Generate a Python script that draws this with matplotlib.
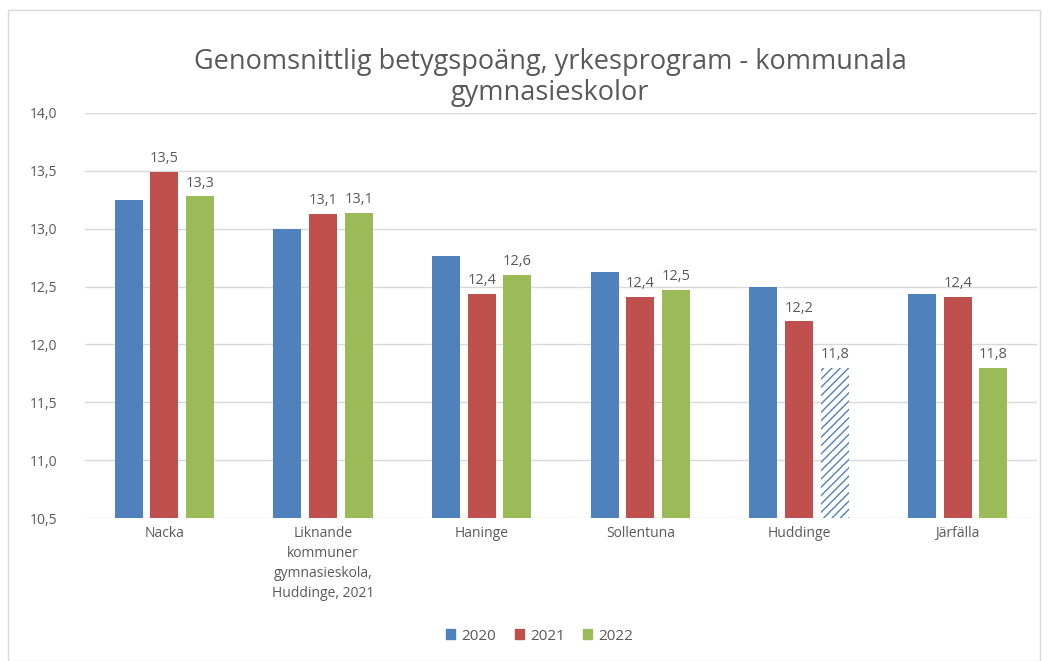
import matplotlib
matplotlib.use('Agg')
import matplotlib.pyplot as plt
import numpy as np
from matplotlib.patches import Rectangle, Patch

plt.rcParams['font.family'] = ['Open Sans', 'DejaVu Sans']

categories = ['Nacka', 'Liknande\nkommuner\ngymnasieskola,\nHuddinge, 2021',
              'Haninge', 'Sollentuna', 'Huddinge', 'Järfälla']
years = ['2020', '2021', '2022']
values_2020 = [13.25, 13.00, 12.76, 12.63, 12.50, 12.44]
values_2021 = [13.49, 13.13, 12.44, 12.41, 12.20, 12.41]
values_2022 = [13.28, 13.14, 12.60, 12.47, 11.80, 11.80]
labelled = [False, True, True]
hatched_2022 = [False, False, False, False, True, False]

colors = ['#4F81BD', '#C0504D', '#9BBB59']
text_col = '#595959'

fig = plt.figure(figsize=(10.48, 6.61), dpi=100)
fig.patches.append(Rectangle((8 / 1048, 0), 1032 / 1048, 1 - 10 / 661,
                             transform=fig.transFigure, fill=False,
                             edgecolor='#D9D9D9', linewidth=1))
ax = fig.add_axes([85 / 1048, 1 - 518 / 661, 952 / 1048, 405 / 661])

x = np.arange(len(categories))
width = 0.177
step = 0.225
base = 10.5
series = [values_2020, values_2021, values_2022]
for i, vals in enumerate(series):
    pos = x + (i - 1) * step
    heights = [v - base for v in vals]
    if i == 2:
        for p, h, hat in zip(pos, heights, hatched_2022):
            if hat:
                ax.bar(p, h, width, bottom=base, facecolor='white',
                       edgecolor=colors[0], hatch='////', linewidth=0, zorder=3)
            else:
                ax.bar(p, h, width, bottom=base, color=colors[i], zorder=3)
    else:
        ax.bar(pos, heights, width, bottom=base, color=colors[i], zorder=3)
    if labelled[i]:
        for p, v in zip(pos, vals):
            ax.text(p, v + 0.05, f'{v:.1f}'.replace('.', ','), ha='center',
                    va='bottom', fontsize=10.5, color=text_col)

ax.set_ylim(10.5, 14.0)
ax.set_xlim(-0.5, len(categories) - 0.5)
yt = np.arange(10.5, 14.01, 0.5)
ax.set_yticks(yt)
ax.set_yticklabels([f'{t:.1f}'.replace('.', ',') for t in yt],
                   fontsize=10, color=text_col)
ax.set_xticks(x)
ax.set_xticklabels(categories, fontsize=10, color=text_col, linespacing=1.45,
                   va='top')
ax.tick_params(axis='x', length=0, pad=6)
ax.tick_params(axis='y', length=0, pad=20)
ax.grid(axis='y', color='#D9D9D9', linewidth=1, zorder=0)
for s in ax.spines.values():
    s.set_visible(False)

fig.text(0.525, 1 - 62 / 661, 'Genomsnittlig betygspoäng, yrkesprogram - kommunala',
         ha='center', va='center', fontsize=19.5, color=text_col)
fig.text(0.525, 1 - 93 / 661, 'gymnasieskolor', ha='center', va='center',
         fontsize=19.5, color=text_col)

handles = [Patch(color=c, label=y) for c, y in zip(colors, years)]
fig.legend(handles=handles, loc='center', bbox_to_anchor=(0.515, 1 - 636 / 661),
           ncol=3, frameon=False, fontsize=11, handlelength=0.6,
           handleheight=0.6, columnspacing=1.2, handletextpad=0.4,
           labelcolor=text_col)

fig.savefig('out.png', dpi=100)
